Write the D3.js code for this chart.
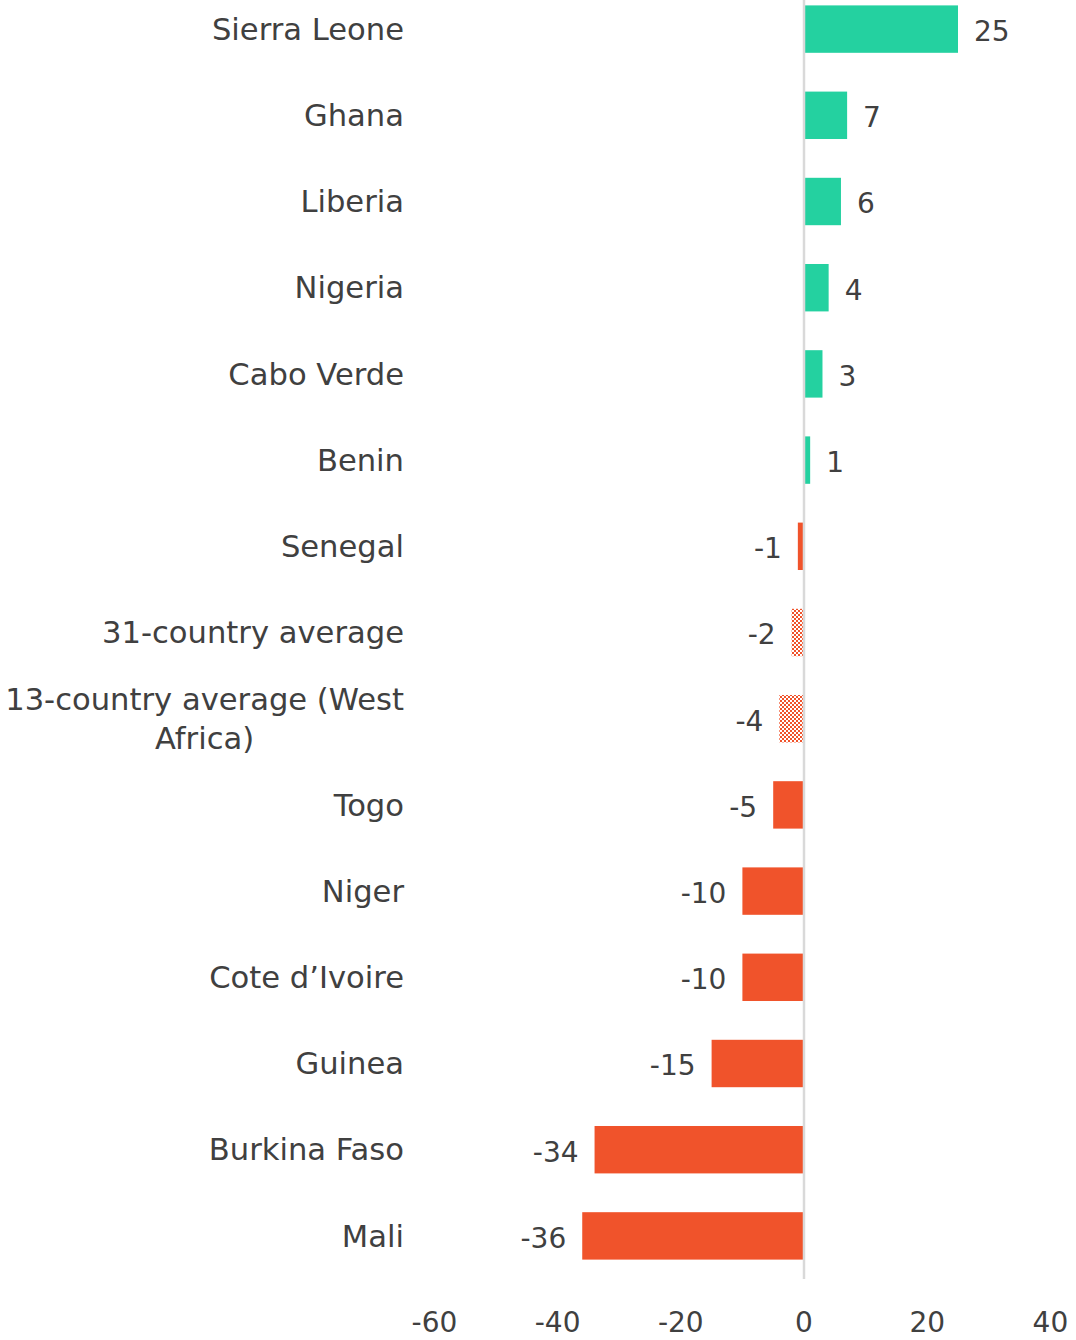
<!DOCTYPE html>
<html lang="en">
<head>
    <meta charset="utf-8">
    <title>Change by country</title>
    <script src="https://cdn.jsdelivr.net/npm/d3@7"></script>
    <style>
        body { margin: 0; background: #ffffff; }
        svg text { font-family: "DejaVu Sans", sans-serif; fill: #404040; }
    </style>
</head>
<body>
<div id="chart"></div>
<script>
    // data
    var countries = ['Sierra Leone', 'Ghana', 'Liberia', 'Nigeria', 'Cabo Verde', 'Benin', 'Senegal',
        '31-country average', '13-country average (West|Africa)', 'Togo', 'Niger', 'Cote d\u2019Ivoire',
        'Guinea', 'Burkina Faso', 'Mali'];
    var values = [25, 7, 6, 4, 3, 1, -1, -2, -4, -5, -10, -10, -15, -34, -36];
    var isAverage = [false, false, false, false, false, false, false, true, true, false, false, false, false, false, false];
    var xTicks = [-60, -40, -20, 0, 20, 40];

    var width = 1076,
        height = 1340,
        fontSize = 28,
        catFontSize = 30.6;

    var svg = d3.select('#chart').append('svg')
        .attr('width', width)
        .attr('height', height);

    // checkerboard fill for the averages
    var pat = svg.append('defs').append('pattern')
        .attr('id', 'checker')
        .attr('patternUnits', 'userSpaceOnUse')
        .attr('width', 4).attr('height', 4);
    pat.append('rect').attr('width', 4).attr('height', 4).attr('fill', '#ffffff');
    pat.append('rect').attr('width', 2).attr('height', 2).attr('fill', '#f0532b');
    pat.append('rect').attr('x', 2).attr('y', 2).attr('width', 2).attr('height', 2).attr('fill', '#f0532b');

    var x = d3.scaleLinear().domain([-60, 40]).range([434.4, 1050.4]);
    var y = d3.scaleBand().domain(countries).range([-14, 1279]).paddingInner(0.45).paddingOuter(0.225);

    // bars
    svg.selectAll('rect.bar')
        .data(values)
        .enter()
        .append('rect')
        .attr('class', 'bar')
        .attr('x', function(d) { return x(Math.min(0, d)); })
        .attr('y', function(d, i) { return y(countries[i]); })
        .attr('width', function(d) { return Math.abs(x(d) - x(0)); })
        .attr('height', y.bandwidth())
        .attr('fill', function(d, i) {
            if (isAverage[i]) return 'url(#checker)';
            return d >= 0 ? '#24d1a0' : '#f0532b';
        });

    // zero line
    svg.append('line')
        .attr('x1', x(0)).attr('x2', x(0))
        .attr('y1', -14).attr('y2', 1279)
        .attr('stroke', '#d9d9d9')
        .attr('stroke-width', 2.5);

    // value labels
    svg.selectAll('text.val')
        .data(values)
        .enter()
        .append('text')
        .attr('class', 'val')
        .attr('x', function(d) { return d >= 0 ? x(d) + 16 : x(d) - 16; })
        .attr('y', function(d, i) { return y(countries[i]) + y.bandwidth() / 2 + 2; })
        .attr('dy', '0.35em')
        .attr('text-anchor', function(d) { return d >= 0 ? 'start' : 'end'; })
        .style('font-size', fontSize + 'px')
        .text(function(d) { return d; });

    // category labels, wrapped ones centred on each other
    var labelRight = 404;
    svg.selectAll('g.cat')
        .data(countries)
        .enter()
        .append('g')
        .attr('class', 'cat')
        .each(function(d) {
            var g = d3.select(this),
                lines = d.split('|'),
                cy = y(d) + y.bandwidth() / 2;
            if (lines.length === 1) {
                g.append('text')
                    .attr('x', labelRight)
                    .attr('y', cy)
                    .attr('dy', '0.35em')
                    .attr('text-anchor', 'end')
                    .style('font-size', catFontSize + 'px')
                    .text(d);
                return;
            }
            var t = g.selectAll('text').data(lines).enter().append('text')
                .attr('y', function(l, j) { return cy + (j - (lines.length - 1) / 2) * 39; })
                .attr('dy', '0.35em')
                .attr('text-anchor', 'middle')
                .style('font-size', catFontSize + 'px')
                .text(function(l) { return l; });
            var w = d3.max(t.nodes(), function(n) { return n.getComputedTextLength(); });
            t.attr('x', labelRight - w / 2);
        });

    // x axis labels
    svg.selectAll('text.tick')
        .data(xTicks)
        .enter()
        .append('text')
        .attr('class', 'tick')
        .attr('x', function(d) { return x(d); })
        .attr('y', 1322)
        .attr('dy', '0.35em')
        .attr('text-anchor', 'middle')
        .style('font-size', fontSize + 'px')
        .text(function(d) { return d; });
</script>
</body>
</html>
